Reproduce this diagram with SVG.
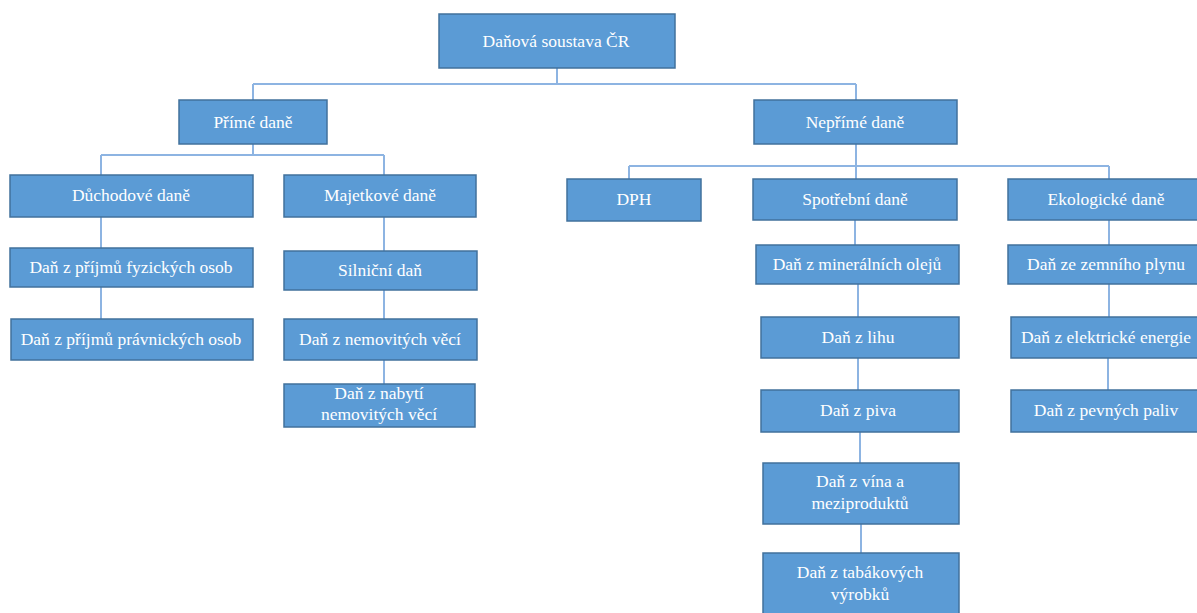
<svg xmlns="http://www.w3.org/2000/svg" width="1197" height="613" viewBox="0 0 1197 613">
<style>
.box{fill:#5B9BD5;stroke:#41719C;stroke-width:1.5}
text{font-family:'Liberation Serif','Times New Roman','DejaVu Serif',serif;font-size:17.5px;fill:#FFFFFF;text-anchor:middle}
.con{stroke:#8DB4E2;stroke-width:2;fill:none}
</style>
<rect width="1197" height="613" fill="#FFFFFF"/>
<g id="connectors">
<path class="con" d="M557,68V84M253,84H856M253,84V100M856,84V100"/>
<path class="con" d="M253,144V155M101,155H384M101,155V175M384,155V175"/>
<path class="con" d="M101,217V248M101,287V319"/>
<path class="con" d="M384,217V251M384,290V319M384,360V384"/>
<path class="con" d="M856,144V166M629,166H1109M629,166V179M856,166V179M1109,166V179"/>
<path class="con" d="M855,220V245M858,284V317M858,358V390M860,432V463M861,524V553"/>
<path class="con" d="M1109,220V245M1109,284V317M1108,358V390"/>
</g>
<g id="root"><rect class="box" x="439" y="14" width="236" height="54"/><text font-family="Liberation Serif, serif" x="556" y="47">Daňová soustava ČR</text></g>
<g id="prime"><rect class="box" x="179" y="100" width="148" height="44"/><text font-family="Liberation Serif, serif" x="253" y="128">Přímé daně</text></g>
<g id="neprime"><rect class="box" x="754" y="100" width="203" height="44"/><text font-family="Liberation Serif, serif" x="855" y="128">Nepřímé daně</text></g>
<g id="duchodove"><rect class="box" x="10" y="175" width="243" height="42"/><text font-family="Liberation Serif, serif" x="131" y="201">Důchodové daně</text></g>
<g id="majetkove"><rect class="box" x="284" y="175" width="192" height="42"/><text font-family="Liberation Serif, serif" x="380" y="201">Majetkové daně</text></g>
<g id="dpfo"><rect class="box" x="10" y="248" width="243" height="39"/><text font-family="Liberation Serif, serif" x="131" y="273">Daň z příjmů fyzických osob</text></g>
<g id="dppo"><rect class="box" x="11" y="319" width="242" height="41"/><text font-family="Liberation Serif, serif" x="131" y="345">Daň z příjmů právnických osob</text></g>
<g id="silnicni"><rect class="box" x="284" y="251" width="193" height="39"/><text font-family="Liberation Serif, serif" x="380" y="276">Silniční daň</text></g>
<g id="nemovitosti"><rect class="box" x="284" y="319" width="193" height="41"/><text font-family="Liberation Serif, serif" x="380" y="345">Daň z nemovitých věcí</text></g>
<g id="nabyti"><rect class="box" x="284" y="384" width="191" height="43"/><text font-family="Liberation Serif, serif" x="379" y="399">Daň z nabytí</text><text font-family="Liberation Serif, serif" x="379" y="420">nemovitých věcí</text></g>
<g id="dph"><rect class="box" x="567" y="179" width="134" height="42"/><text font-family="Liberation Serif, serif" x="634" y="205">DPH</text></g>
<g id="spotrebni"><rect class="box" x="753" y="179" width="204" height="41"/><text font-family="Liberation Serif, serif" x="855" y="205">Spotřební daně</text></g>
<g id="ekologicke"><rect class="box" x="1008" y="179" width="196" height="41"/><text font-family="Liberation Serif, serif" x="1106" y="205">Ekologické daně</text></g>
<g id="mineralni"><rect class="box" x="756" y="245" width="203" height="39"/><text font-family="Liberation Serif, serif" x="857" y="270">Daň z minerálních olejů</text></g>
<g id="zemni"><rect class="box" x="1008" y="245" width="196" height="39"/><text font-family="Liberation Serif, serif" x="1106" y="270">Daň ze zemního plynu</text></g>
<g id="lih"><rect class="box" x="761" y="317" width="198" height="41"/><text font-family="Liberation Serif, serif" x="858" y="343">Daň z lihu</text></g>
<g id="pivo"><rect class="box" x="761" y="390" width="198" height="42"/><text font-family="Liberation Serif, serif" x="858" y="416">Daň z piva</text></g>
<g id="vino"><rect class="box" x="763" y="463" width="196" height="61"/><text font-family="Liberation Serif, serif" x="860" y="487">Daň z vína a</text><text font-family="Liberation Serif, serif" x="860" y="509">meziproduktů</text></g>
<g id="tabak"><rect class="box" x="763" y="553" width="196" height="62"/><text font-family="Liberation Serif, serif" x="860" y="578">Daň z tabákových</text><text font-family="Liberation Serif, serif" x="860" y="600">výrobků</text></g>
<g id="elektrina"><rect class="box" x="1011" y="317" width="190" height="41"/><text font-family="Liberation Serif, serif" x="1106" y="343">Daň z elektrické energie</text></g>
<g id="paliva"><rect class="box" x="1011" y="390" width="190" height="42"/><text font-family="Liberation Serif, serif" x="1106" y="416">Daň z pevných paliv</text></g>
</svg>
